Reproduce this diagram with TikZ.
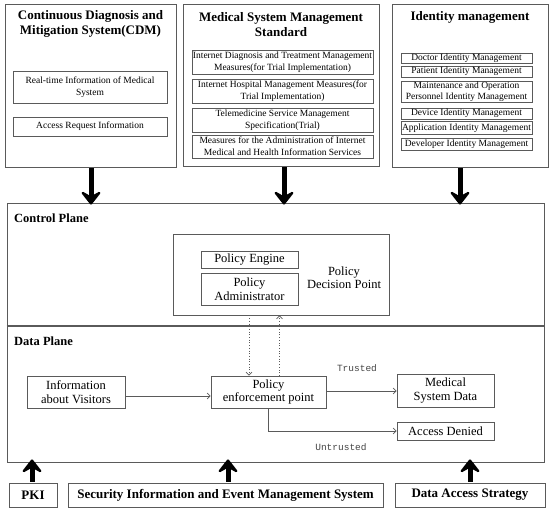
\documentclass[tikz,border=0pt]{standalone}
\usepackage{fontspec}
\setmainfont{Liberation Serif}
\setmonofont{Liberation Mono}
\usetikzlibrary{arrows.meta}
\definecolor{boxgray}{HTML}{5A5A5A}
\definecolor{lblgray}{HTML}{444444}
\newcommand\ttlfont{\fontsize{13}{14.5}\selectfont\bfseries}
\newcommand\smfont{\fontsize{9.5}{12}\selectfont}
\newcommand\mdfont{\fontsize{12.5}{13.5}\selectfont}
\begin{document}
\begin{tikzpicture}[x=1pt,y=-1pt,
  box/.style={draw=boxgray, line width=0.8pt, rectangle, inner sep=0pt, align=center},
  smbox/.style={box, font=\smfont},
  mdbox/.style={box, font=\mdfont},
  ttl/.style={inner sep=0pt, align=center, font=\ttlfont},
  plane/.style={inner sep=0pt, anchor=west, font=\fontsize{12.5}{14}\selectfont\bfseries},
  bigarrow/.style={line width=5pt, black, -{Stealth[length=16pt,width=25pt,inset=7pt,round]}},
  conn/.style={draw=boxgray, line width=0.7pt, -{Straight Barb[length=3pt,width=6pt]}},
  dotconn/.style={draw=boxgray, line width=0.7pt, dotted, -{Straight Barb[length=3pt,width=6pt]}},
  monolbl/.style={inner sep=0pt, text=lblgray, font=\fontsize{9.5}{11}\selectfont\ttfamily}
]
\useasboundingbox (0,0) rectangle (550,511);

% top boxes
\node[box, minimum width=171pt, minimum height=163pt] (cdm) at (90.5,85.5) {};
\node[ttl] (cdmt) at (90.5,24) {Continuous Diagnosis and\\Mitigation System(CDM)};
\node[smbox, minimum width=154pt, minimum height=32pt] (cdm1) at (90,87) {Real-time Information of Medical\\System};
\node[smbox, minimum width=154pt, minimum height=19pt] (cdm2) at (90,126.5) {Access Request Information};

\node[box, minimum width=196pt, minimum height=162pt] (mss) at (281,85) {};
\node[ttl] (msst) at (281,24.5) {Medical System Management\\Standard};
\node[smbox, minimum width=181pt, minimum height=24pt] (mss1) at (282.5,62) {Internet Diagnosis and Treatment Management\\Measures(for Trial Implementation)};
\node[smbox, minimum width=181pt, minimum height=24pt] (mss2) at (282.5,91) {Internet Hospital Management Measures(for\\Trial Implementation)};
\node[smbox, minimum width=181pt, minimum height=24pt] (mss3) at (282.5,120) {Telemedicine Service Management\\Specification(Trial)};
\node[smbox, minimum width=181pt, minimum height=23pt] (mss4) at (282.5,146.5) {Measures for the Administration of Internet\\Medical and Health Information Services};

\node[box, minimum width=156pt, minimum height=163pt] (idm) at (470,85.5) {};
\node[ttl] (idmt) at (470,17) {Identity management};
\node[smbox, minimum width=131pt, minimum height=10pt] (id1) at (466.5,58.3) {Doctor Identity Management};
\node[smbox, minimum width=131pt, minimum height=11pt] (id2) at (466.5,71.7) {Patient Identity Management};
\node[smbox, minimum width=131pt, minimum height=21pt, font=\fontsize{9.5}{10.5}\selectfont] (id3) at (466.5,91.7) {Maintenance and Operation\\Personnel Identity Management};
\node[smbox, minimum width=131pt, minimum height=10.5pt] (id4) at (466.5,113.7) {Device Identity Management};
\node[smbox, minimum width=131pt, minimum height=13pt] (id5) at (466.5,128.3) {Application Identity Management};
\node[smbox, minimum width=131pt, minimum height=12pt] (id6) at (466.5,144.5) {Developer Identity Management};

% planes
\node[box, minimum width=537pt, minimum height=123pt] (cp) at (275.5,264.5) {};
\node[box, minimum width=537pt, minimum height=136pt] (dp) at (275.5,394) {};
\draw[draw=boxgray, line width=2pt] (cp.south west) -- (cp.south east);
\node[plane] (cpl) at (14,218) {Control Plane};
\node[plane] (dpl) at (14,341) {Data Plane};

% PDP
\node[box, minimum width=216pt, minimum height=81pt] (pdp) at (281,274.5) {};
\node[mdbox, minimum width=97pt, minimum height=17pt] (pe) at (249.5,259.5) {Policy Engine};
\node[mdbox, minimum width=97pt, minimum height=32pt] (pa) at (249.5,289) {Policy\\Administrator};
\node[inner sep=0pt, align=center, font=\mdfont] (pdpl) at (344,277.5) {Policy\\Decision Point};

% data plane nodes
\node[mdbox, minimum width=98pt, minimum height=32pt] (info) at (76,392) {Information\\about Visitors};
\node[mdbox, minimum width=115pt, minimum height=32pt] (pep) at (268.5,392) {Policy\\enforcement point};
\node[mdbox, minimum width=97pt, minimum height=33pt] (msd) at (445.5,390.5) {Medical\\System Data};
\node[mdbox, minimum width=97pt, minimum height=18pt] (ad) at (445.5,431) {Access Denied};
\node[monolbl] (tr) at (357,368) {Trusted};
\node[monolbl] (ut) at (341,447) {Untrusted};

% connectors
\coordinate (c1) at ([yshift=-4pt]info.east);
\draw[conn] (c1) -- (c1 -| pep.west);
\coordinate (c2) at ([yshift=1pt]pep.east);
\draw[conn] (c2) -- (c2 -| msd.west);
\draw[conn] (pep.south) -- (pep.south |- ad.west) -- (ad.west);
\coordinate (d1) at ([xshift=-32pt]pdp.south);
\coordinate (d2) at ([xshift=-1.5pt]pdp.south);
\draw[dotconn] (d1) -- (d1 |- pep.north);
\draw[dotconn] (d2 |- pep.north) -- (d2);

% bottom boxes
\node[box, minimum width=48pt, minimum height=24pt, font=\ttlfont] (pki) at (33,495) {PKI};
\node[box, minimum width=315pt, minimum height=24pt, font=\ttlfont] (siem) at (225.5,495) {Security Information and Event Management System};
\node[box, minimum width=150pt, minimum height=24pt, font=\ttlfont] (das) at (470,495) {Data Access Strategy};

% big arrows
\coordinate (a1) at ([xshift=0.5pt,yshift=-1pt]cdm.south);
\coordinate (a2) at ([xshift=3pt,yshift=-1pt]mss.south);
\coordinate (a3) at ([xshift=-10pt,yshift=-1pt]idm.south);
\draw[bigarrow] (a1) -- ([yshift=-2pt]a1 |- cp.north);
\draw[bigarrow] (a2) -- ([yshift=-2pt]a2 |- cp.north);
\draw[bigarrow] (a3) -- ([yshift=-2pt]a3 |- cp.north);
\coordinate (b1) at ([xshift=-1pt,yshift=1pt]pki.north);
\coordinate (b2) at ([xshift=2.5pt,yshift=1pt]siem.north);
\coordinate (b3) at ([yshift=1pt]das.north);
\draw[bigarrow] (b1) -- ([yshift=3pt]b1 |- dp.south);
\draw[bigarrow] (b2) -- ([yshift=3pt]b2 |- dp.south);
\draw[bigarrow] (b3) -- ([yshift=3pt]b3 |- dp.south);
\end{tikzpicture}
\end{document}
